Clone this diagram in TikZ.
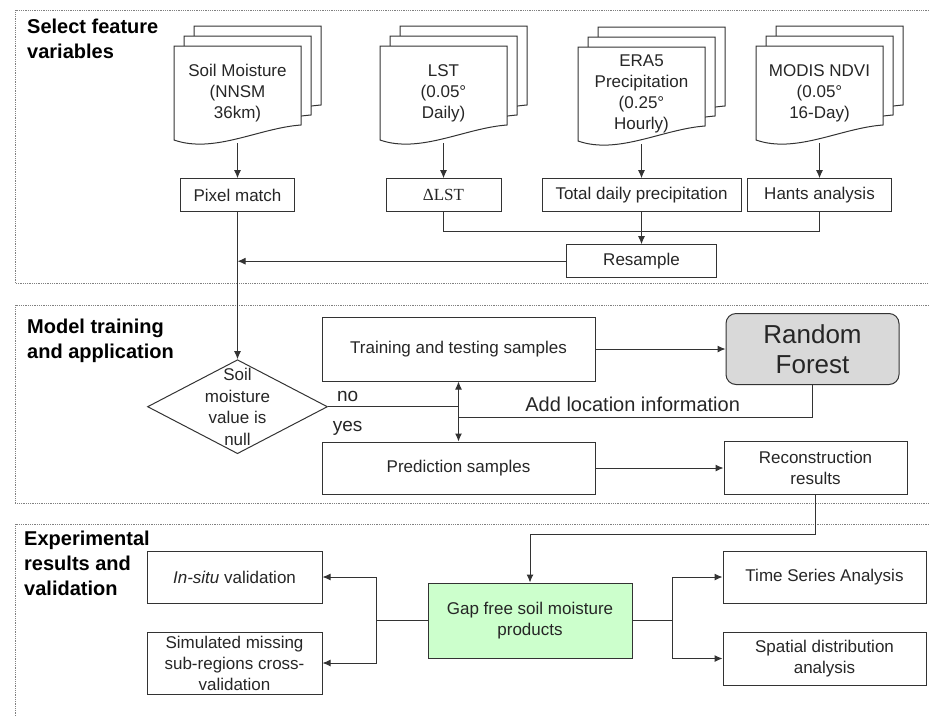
\documentclass[tikz,border=0pt]{standalone}
\usepackage{fontspec}
\setmainfont{Liberation Sans}
\newfontfamily\deltafont{Liberation Serif}
\usetikzlibrary{positioning,arrows.meta,shapes.geometric,calc}

\definecolor{gapgreen}{HTML}{CCFFCC}

\newcommand{\docpage}[1]{%
	\draw[page, shift={#1}] (0,0) -- (127,0) -- (127,79) .. controls (85,82) and (40,108) .. (0,94) -- cycle;}

\newcommand{\docstack}[4]{%
	\docpage{(#2+20,#3-20)}
	\docpage{(#2+10,#3-10)}
	\docpage{(#2,#3)}
	\node[doctext] (#1) at (#2+63.5,#3+47) {#4};}

\begin{document}
\begin{tikzpicture}[
		x=1pt, y=-1pt,
		panel/.style={
			draw = black!50,
			densely dotted,
			line width = 0.8pt
		},
		title/.style={
			anchor = north west,
			align = left,
			inner sep = 0,
			font = \fontsize{20}{25}\selectfont\bfseries
		},
		page/.style={
			draw = black!80,
			fill = white,
			line width = 1pt
		},
		doctext/.style={
			minimum width = 127pt,
			minimum height = 100pt,
			inner sep = 0,
			align = center,
			text = black!85,
			font = \fontsize{17}{21}\selectfont
		},
		box/.style={
			draw = black!80,
			line width = 1pt,
			minimum height = 33pt,
			inner sep = 2pt,
			align = center,
			text = black!85,
			font = \fontsize{17}{21}\selectfont
		},
		decision/.style={
			diamond,
			draw = black!80,
			line width = 1pt,
			minimum width = 180pt,
			minimum height = 94pt,
			inner sep = 0
		},
		arrow/.style={
			draw = black!80,
			line width = 1pt,
			-{Latex[length=8pt,width=7pt]}
		},
		line/.style={
			draw = black!80,
			line width = 1pt
		},
		edgetext/.style={
			text = black!85,
			font = \fontsize{19}{23}\selectfont
		},
	]

	\useasboundingbox (0,0) rectangle (929,716);

	% panels
	\draw[panel] (929,10) -| (15,283) -- (929,283);
	\draw[panel] (929,305) -| (15,503) -- (929,503);
	\draw[panel] (929,524) -| (15,716);

	\node[title] (select) at (27,18.5) {Select feature\\variables};
	\node[title] (model) at (27,318.5) {Model training\\and application};
	\node[title] (expt) at (24,530.5) {Experimental\\results and\\validation};

	% input data
	\docstack{soil}{174}{46}{Soil Moisture\\(NNSM\\36km)}
	\docstack{lst}{380}{46}{LST\\(0.05°\\Daily)}
	\docstack{era}{578}{47}{ERA5\\Precipitation\\(0.25°\\Hourly)}
	\docstack{ndvi}{756}{46}{MODIS NDVI\\(0.05°\\16-Day)}

	\node[box, minimum width=114pt, below=35pt of soil] (match) {Pixel match};
	\node[box, minimum width=115pt, below=35pt of lst] (dlst) {\deltafont ΔLST};
	\node[box, minimum width=199pt, below=34pt of era] (precip) {Total daily precipitation};
	\node[box, minimum width=144pt, below=35pt of ndvi] (hants) {Hants analysis};
	\node[box, minimum width=150pt, below=32pt of precip] (resample) {Resample};

	\coordinate (merge) at ($(precip.south)!0.6!(resample.north)$);

	\draw[arrow] (soil) -- (match);
	\draw[arrow] (lst) -- (dlst);
	\draw[arrow] (era) -- (precip);
	\draw[arrow] (ndvi) -- (hants);
	\draw[arrow] (precip) -- (resample);
	\draw[line] (dlst) |- (merge) -| (hants);
	\draw[arrow] (resample.west) -- (resample.west -| match);

	% model
	\node[decision, below=147pt of match,
		label={[align=center, text=black!85, font=\fontsize{17}{21.5}\selectfont]center:{Soil\\moisture\\value is\\null}}] (null) {};
	\node[box, minimum width=273pt, minimum height=64pt] (train) at (458.5,349) {Training and testing samples};
	\node[box, minimum width=173pt, minimum height=71pt, fill=gray!30, rounded corners=10pt,
		font=\fontsize{26}{30}\selectfont, right=130pt of train] (forest) {Random\\Forest};
	\node[box, minimum width=273pt, minimum height=52pt, below=60pt of train] (predict) {Prediction samples};
	\node[box, minimum width=183pt, minimum height=53pt, right=128pt of predict] (recon) {Reconstruction\\results};

	\coordinate (split) at (train.south |- null.east);
	\coordinate (join) at ($(split)+(0,11)$);

	\draw[arrow] (match) -- (null);
	\draw[line] (null) -- node[edgetext, pos=0.15, above=1pt] {no} node[edgetext, pos=0.15, below=11pt] {yes} (split);
	\draw[arrow] (split) -- (train);
	\draw[arrow] (split) -- (predict);
	\draw[line] (forest) |- node[edgetext, pos=0.754, above=2pt, font=\fontsize{20}{24}\selectfont] {Add location information} (join);
	\draw[arrow] (train) -- (forest);
	\draw[arrow] (predict) -- (recon);

	% results
	\node[box, minimum width=204pt, minimum height=75pt, fill=gapgreen] (gapfree) at (530,620.5) {Gap free soil moisture\\products};
	\node[box, minimum width=175pt, minimum height=52pt] (insitu) at (234.5,577) {\textit{In-situ} validation};
	\node[box, minimum width=175pt, minimum height=62pt] (simul) at (234.5,663) {Simulated missing\\sub-regions cross-\\validation};
	\node[box, minimum width=203pt, minimum height=52pt] (series) at (824.5,577) {Time Series Analysis};
	\node[box, minimum width=203pt, minimum height=53pt] (spatial) at (824.5,658.5) {Spatial distribution\\analysis};

	\draw[arrow] (recon.south) -- ++(0,39) -| (gapfree);
	\draw[arrow] (gapfree.west) -- ++(-51,0) |- (insitu);
	\draw[arrow] (gapfree.west) -- ++(-51,0) |- (simul);
	\draw[arrow] (gapfree.east) -- ++(40,0) |- (series);
	\draw[arrow] (gapfree.east) -- ++(40,0) |- (spatial);

\end{tikzpicture}
\end{document}
